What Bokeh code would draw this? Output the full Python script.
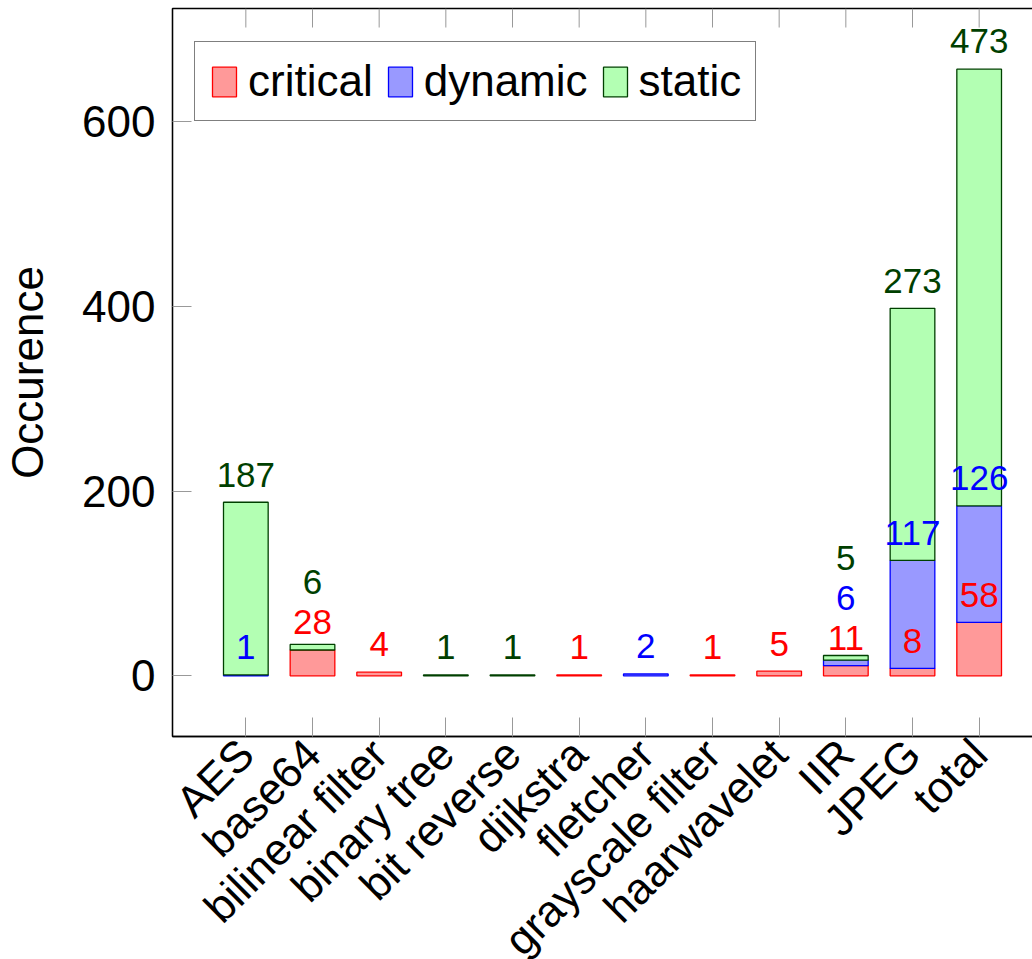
import math
from bokeh.plotting import figure
from bokeh.models import (ColumnDataSource, FixedTicker, Range1d,
                          LabelSet, Legend, LegendItem, Grid)
from bokeh.core.properties import value
from bokeh.embed import file_html
from bokeh.resources import INLINE

# ---------------- data ----------------
categories = ["AES", "base64", "bilinear filter", "binary tree", "bit reverse",
              "dijkstra", "fletcher", "grayscale filter", "haarwavelet",
              "IIR", "JPEG", "total"]
critical = [0, 28, 4, 0, 0, 1, 0, 1, 5, 11, 8, 58]
dynamic = [1, 0, 0, 0, 0, 0, 2, 0, 0, 6, 117, 126]
static = [187, 6, 0, 1, 1, 0, 0, 0, 0, 5, 273, 473]
series_names = ["critical", "dynamic", "static"]
y_ticks = [0, 200, 400, 600]
y_axis_title = "Occurence"

# ---------------- styles ----------------
FONT_NAME = "Liberation Sans"
FONT = value(FONT_NAME)
fills = ["#ff9999", "#9999ff", "#b3ffb3"]
lines = ["#ff0000", "#0000ff", "#004000"]
label_colors = ["#ff0000", "#0000ff", "#003f00"]
tick_color = "#999999"
TICK_PX = 19

y_start, y_end = -65.7, 722.7
x_start, x_end = -1.1, 12.1
p = figure(width=1060, height=1000,
           x_range=Range1d(x_start, x_end), y_range=Range1d(y_start, y_end),
           output_backend="svg", toolbar_location=None,
           x_axis_location="below", y_axis_location="left",
           min_border_left=172, min_border_right=8,
           min_border_top=8, min_border_bottom=264)
p.outline_line_color = "black"
p.outline_line_width = 1.3
for r in list(p.center):
    if isinstance(r, Grid):
        r.visible = False

# y axis
ya = p.yaxis[0]
ya.ticker = FixedTicker(ticks=y_ticks)
ya.major_tick_in = TICK_PX
ya.major_tick_out = 0
ya.minor_tick_in = 0
ya.minor_tick_out = 0
ya.major_tick_line_color = tick_color
ya.axis_line_color = "black"
ya.axis_line_width = 1.3
ya.major_label_text_font = FONT_NAME
ya.major_label_text_font_size = "44px"
ya.major_label_text_color = "black"
ya.major_label_standoff = 17
ya.axis_label = y_axis_title
ya.axis_label_text_font = FONT_NAME
ya.axis_label_text_font_size = "44px"
ya.axis_label_text_font_style = "normal"
ya.axis_label_text_color = "black"
ya.axis_label_standoff = 27

# x axis with rotated category labels
xa = p.xaxis[0]
xa.ticker = FixedTicker(ticks=list(range(len(categories))))
xa.major_label_overrides = {i: c for i, c in enumerate(categories)}
xa.major_label_orientation = math.pi / 4
xa.major_label_text_font = FONT_NAME
xa.major_label_text_font_size = "44px"
xa.major_label_text_color = "black"
xa.major_label_standoff = 10
xa.major_tick_in = TICK_PX
xa.major_tick_out = 0
xa.minor_tick_in = 0
xa.minor_tick_out = 0
xa.major_tick_line_color = tick_color
xa.axis_line_color = "black"
xa.axis_line_width = 1.3

# top ticks (inward), same positions as the bottom ticks
tick_len = TICK_PX * (y_end - y_start) / 728.0
top_idx = list(range(len(categories)))
p.segment(x0=top_idx, x1=top_idx, y0=[y_end] * len(top_idx),
          y1=[y_end - tick_len] * len(top_idx), line_color=tick_color, line_width=1)

# ---------------- stacked bars ----------------
series = [critical, dynamic, static]
bottoms = [0] * len(categories)
legend_items = []
lab_x, lab_y, lab_t, lab_c = [], [], [], []
prev_label = [-1e9] * len(categories)
for k, (name, vals) in enumerate(zip(series_names, series)):
    xs, bs, ts = [], [], []
    for i, v in enumerate(vals):
        b = bottoms[i]
        t = b + v
        if v > 0:
            xs.append(i); bs.append(b); ts.append(t)
            ly = max(t + 30, prev_label[i] + 43.5)
            prev_label[i] = ly
            lab_x.append(i); lab_y.append(ly); lab_t.append(str(v)); lab_c.append(label_colors[k])
        bottoms[i] = t
    src = ColumnDataSource(dict(x=xs, bottom=bs, top=ts))
    r = p.vbar(x="x", bottom="bottom", top="top", width=0.67, source=src,
               fill_color=fills[k], line_color=lines[k], line_width=1.3)
    legend_items.append(LegendItem(label=name, renderers=[r]))

labels = LabelSet(x="x", y="y", text="text", text_color="color",
                  source=ColumnDataSource(dict(x=lab_x, y=lab_y, text=lab_t, color=lab_c)),
                  text_align="center", text_baseline="middle",
                  text_font=FONT, text_font_size="35px")
p.add_layout(labels)

# ---------------- legend ----------------
legend = Legend(items=legend_items, orientation="horizontal",
                location=(22, 615))
legend.label_text_font = FONT_NAME
legend.label_text_font_size = "44px"
legend.label_text_color = "black"
legend.glyph_width = 30
legend.glyph_height = 37
legend.label_standoff = 9
legend.spacing = 12
legend.padding = 14
legend.margin = 0
legend.border_line_color = "black"
legend.border_line_width = 1.3
legend.background_fill_color = "white"
legend.background_fill_alpha = 1.0
p.add_layout(legend, "center")

open("out.html", "w").write(file_html(p, INLINE))
